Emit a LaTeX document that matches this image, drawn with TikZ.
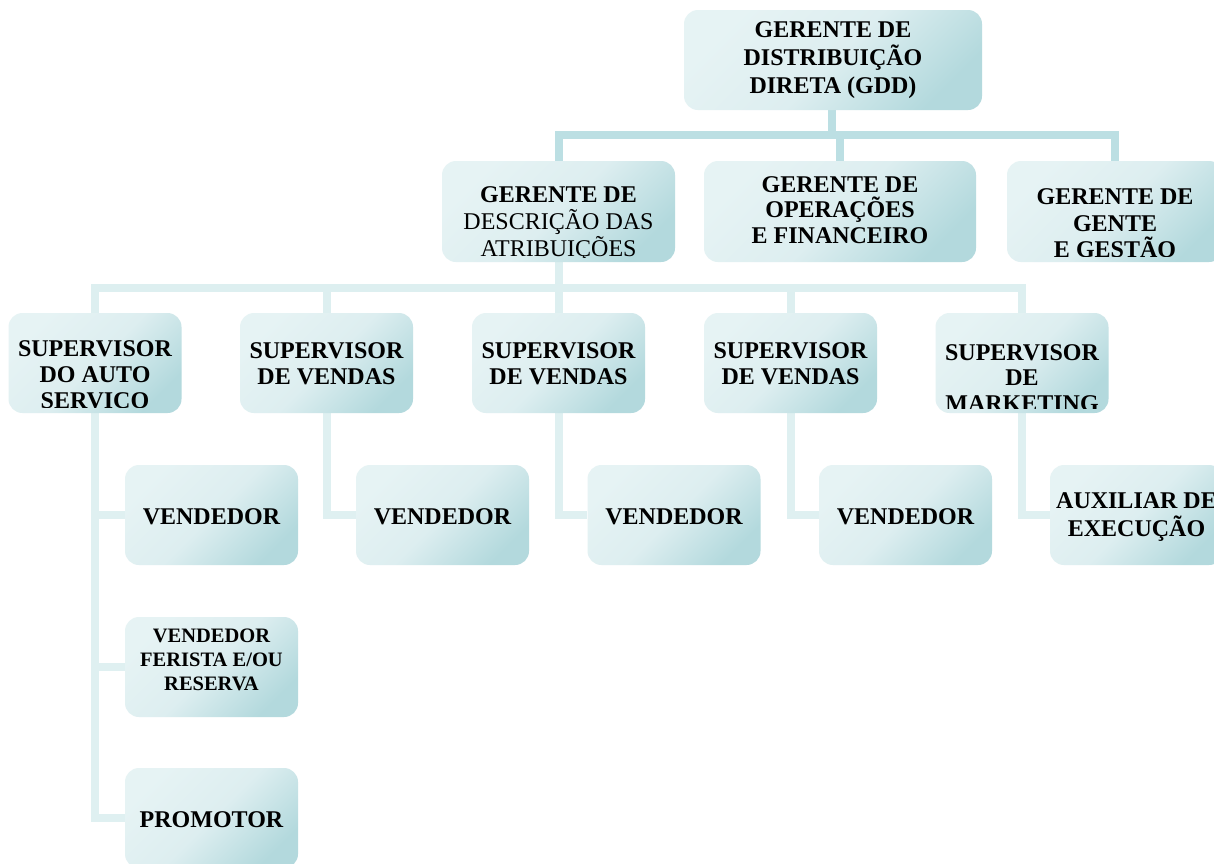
\documentclass[tikz,border=0pt]{standalone}
\usepackage{fontspec}
\setmainfont{Liberation Serif}
\definecolor{boxlight}{HTML}{E6F3F4}
\definecolor{boxmid}{HTML}{DDEEF0}
\definecolor{boxdark}{HTML}{B3D9DD}
\definecolor{connA}{HTML}{BCDFE3}
\definecolor{connB}{HTML}{DDEFF0}
\definecolor{connC}{HTML}{DFF0F1}
\tikzset{
  orgbox/.style={rounded corners=14pt, top color=boxlight, bottom color=boxdark, middle color=boxmid, shading angle=45, minimum width=173pt, minimum height=100pt, inner sep=0pt, draw=none},
  lbl/.style={font=\fontsize{24}{26.5}\selectfont\bfseries, align=center, inner sep=0pt, text=black},
  conn/.style={line width=8pt},
}
\begin{document}
\begin{tikzpicture}[x=1pt,y=-1pt]
\useasboundingbox (0,0) rectangle (1214,863);
\fill[white] (0,0) rectangle (1214,863);
\clip (0,0) rectangle (1214,863);

\coordinate (bar1) at (832,135);
\coordinate (bar2) at (558.5,288);

% connectors
\begin{scope}[conn]
\draw[connA] (832,110) -- (bar1);
\draw[connA] (bar1) -| (558.5,161);
\draw[connA] (bar1) -| (840,161);
\draw[connA] (bar1) -| (1115,161);
\draw[connB] (558.5,262) -- (bar2);
\draw[connB] (bar2) -| (95,313);
\draw[connB] (bar2) -| (326.5,313);
\draw[connB] (bar2) -- (558.5,313);
\draw[connB] (bar2) -| (790.5,313);
\draw[connB] (bar2) -| (1022,313);
\draw[connC] (95,413) |- (125,818);
\draw[connC] (95,515) -- (125,515);
\draw[connC] (95,667) -- (125,667);
\draw[connC] (326.5,413) |- (356,515);
\draw[connC] (558.5,413) |- (587,515);
\draw[connC] (790.5,413) |- (819,515);
\draw[connC] (1022,413) |- (1050,515);
\end{scope}

% boxes
\node[orgbox, minimum width=298pt] (gdd) at (833,60) {};
\node[orgbox, minimum width=233pt, minimum height=101pt] (gda) at (558.5,211.5) {};
\node[orgbox, minimum width=272pt, minimum height=101pt] (gof) at (840,211.5) {};
\node[orgbox, minimum width=216pt, minimum height=101pt] (ggg) at (1115,211.5) {};
\node[orgbox] (sA) at (95,363) {};
\node[orgbox] (sB) at (326.5,363) {};
\node[orgbox] (sC) at (558.5,363) {};
\node[orgbox] (sD) at (790.5,363) {};
\node[orgbox] (sE) at (1022,363) {};
\node[orgbox] (vA) at (211.5,515) {};
\node[orgbox] (vB) at (442.5,515) {};
\node[orgbox] (vC) at (674,515) {};
\node[orgbox] (vD) at (905.5,515) {};
\node[orgbox] (aux) at (1136.5,515) {};
\node[orgbox] (fer) at (211.5,667) {};
\node[orgbox] (pro) at (211.5,818) {};

% labels
\node[lbl, font=\fontsize{24}{28}\selectfont\bfseries] (gdd-t) at (833,60.5) {GERENTE DE\\DISTRIBUIÇÃO\\DIRETA (GDD)};
\begin{scope}
\clip (400,150) rectangle (700,257.5);
\node[lbl, font=\fontsize{24}{27}\selectfont] (gda-t) at (558.5,224.5) {\bfseries GERENTE DE\\\mdseries DESCRIÇÃO DAS\\\mdseries ATRIBUIÇÕES};
\end{scope}
\node[lbl, font=\fontsize{24}{25.5}\selectfont\bfseries] (gof-t) at (840,210) {GERENTE DE\\OPERAÇÕES\\E FINANCEIRO};
\begin{scope}
\clip (990,150) rectangle (1214,256.5);
\node[lbl] (ggg-t) at (1115,223.5) {GERENTE DE\\GENTE\\E GESTÃO};
\end{scope}
\begin{scope}
\clip (0,300) rectangle (200,407.5);
\node[lbl, font=\fontsize{24}{26}\selectfont\bfseries] (sA-t) at (95,377.5) {SUPERVISOR\\DO AUTO\\SERVIÇO};
\end{scope}
\node[lbl, font=\fontsize{24}{26}\selectfont\bfseries] (sB-t) at (326.5,363.5) {SUPERVISOR\\DE VENDAS};
\node[lbl, font=\fontsize{24}{26}\selectfont\bfseries] (sC-t) at (558.5,363.5) {SUPERVISOR\\DE VENDAS};
\node[lbl, font=\fontsize{24}{26}\selectfont\bfseries] (sD-t) at (790.5,363.5) {SUPERVISOR\\DE VENDAS};
\begin{scope}
\clip (920,300) rectangle (1130,408);
\node[lbl, font=\fontsize{24}{25.5}\selectfont\bfseries] (sE-t) at (1022,377.8) {SUPERVISOR\\DE\\MARKETING};
\end{scope}
\node[lbl] (vA-t) at (211.5,517) {VENDEDOR};
\node[lbl] (vB-t) at (442.5,517) {VENDEDOR};
\node[lbl] (vC-t) at (674,517) {VENDEDOR};
\node[lbl] (vD-t) at (905.5,517) {VENDEDOR};
\node[lbl, font=\fontsize{24}{28}\selectfont\bfseries] (aux-t) at (1136.5,517) {AUXILIAR DE\\EXECUÇÃO};
\node[lbl, font=\fontsize{20.5}{24}\selectfont\bfseries] (fer-t) at (211.5,660) {VENDEDOR\\FERISTA E/OU\\RESERVA};
\node[lbl] (pro-t) at (211.5,820) {PROMOTOR};
\end{tikzpicture}
\end{document}
